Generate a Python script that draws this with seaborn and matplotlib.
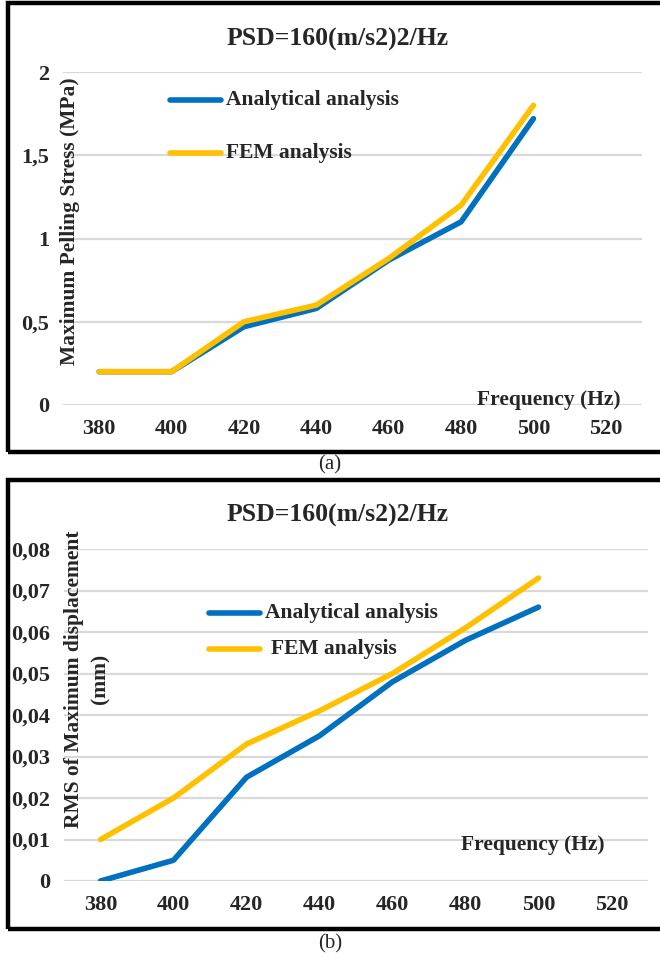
import numpy as np
import pandas as pd
import seaborn as sns
from matplotlib import pyplot as plt
from matplotlib.patches import Rectangle

# data
freq = [380, 400, 420, 440, 460, 480, 500]
stress_analytical = [0.2, 0.2, 0.47, 0.58, 0.87, 1.1, 1.72]
stress_fem = [0.2, 0.2, 0.5, 0.6, 0.88, 1.2, 1.8]
disp_analytical = [0.0, 0.005, 0.025, 0.035, 0.048, 0.058, 0.066]
disp_fem = [0.01, 0.02, 0.033, 0.041, 0.05, 0.061, 0.073]
x_ticks = [380, 400, 420, 440, 460, 480, 500, 520]
series_names = ["Analytical analysis", "FEM analysis"]

BLUE = "#0070C0"
YELLOW = "#FFC000"
GRID = "#D9D9D9"

sns.set_style("white")
plt.rcParams['font.family'] = ['Liberation Serif', 'DejaVu Serif']
plt.rcParams['font.weight'] = 'bold'

W, H = 660, 957
fig = plt.figure(figsize=(W / 100, H / 100), dpi=100)


def px_axes(left, top, right, bottom):
    return fig.add_axes([left / W, 1 - bottom / H, (right - left) / W, (bottom - top) / H])


def long_df(a, b):
    return pd.DataFrame({
        "freq": freq + freq,
        "value": a + b,
        "series": [series_names[0]] * len(freq) + [series_names[1]] * len(freq),
    })


def style_axis(ax, ymax, ystep, fmt):
    ax.set_xlim(370, 530)
    ax.set_ylim(0, ymax)
    ax.set_xticks(x_ticks)
    ax.set_xticklabels([str(v) for v in x_ticks], fontsize=16, fontweight='bold')
    yt = np.arange(0, ymax + ystep / 2, ystep)
    ax.set_yticks(yt)
    ax.set_yticklabels([fmt(v) for v in yt], fontsize=16, fontweight='bold')
    ax.tick_params(length=0, pad=10)
    ax.grid(axis='y', color=GRID, linewidth=1.6)
    ax.grid(axis='x', visible=False)
    sns.despine(ax=ax, left=True, bottom=True)
    ax.set_xlabel("")
    ax.set_ylabel("")
    leg = ax.get_legend()
    if leg is not None:
        leg.remove()


def border(top, bottom):
    fig.patches.append(Rectangle((8 / W, 1 - bottom / H), (W + 20) / W, (bottom - top) / H,
                                 transform=fig.transFigure, fill=False,
                                 edgecolor='black', linewidth=3.2))


def legend_lines(x0, x1, ys, xtext):
    for name, col, y in zip(series_names, [BLUE, YELLOW], ys):
        fig.lines.append(plt.Line2D([x0 / W, x1 / W], [1 - y / H, 1 - y / H],
                                    transform=fig.transFigure, color=col,
                                    linewidth=4, solid_capstyle='round'))
        fig.text(xtext[name] / W, 1 - y / H, name, fontsize=15.5, fontweight='bold',
                 va='center', ha='left')


# ---- panel (a) ----
border(3, 452)
ax1 = px_axes(63, 72, 642, 405)
sns.lineplot(data=long_df(stress_analytical, stress_fem), x="freq", y="value",
             hue="series", palette=[BLUE, YELLOW], linewidth=4,
             solid_capstyle='round', ax=ax1)
style_axis(ax1, 2, 0.5, lambda v: ("%g" % v).replace(".", ","))
fig.text(338 / W, 1 - 39 / H, "PSD=160(m/s2)2/Hz", fontsize=18.5, fontweight='bold',
         ha='center', va='center')
fig.text(70 / W, 1 - 221 / H, "Maximum Pelling Stress (MPa)", fontsize=15.5,
         fontweight='bold', rotation=90, ha='center', va='center')
fig.text(549 / W, 1 - 400 / H, "Frequency (Hz)", fontsize=15.5, fontweight='bold',
         ha='center', va='center')
legend_lines(170, 221, [100, 153],
             {"Analytical analysis": 226, "FEM analysis": 226})
fig.text(330 / W, 1 - 465 / H, "(a)", fontsize=15, fontweight='normal',
         ha='center', va='center')

# ---- panel (b) ----
border(480, 929)
ax2 = px_axes(64, 549, 648, 881)
sns.lineplot(data=long_df(disp_analytical, disp_fem), x="freq", y="value",
             hue="series", palette=[BLUE, YELLOW], linewidth=4,
             solid_capstyle='round', ax=ax2)
style_axis(ax2, 0.08, 0.01, lambda v: "0" if v == 0 else ("%.2f" % v).replace(".", ","))
fig.text(338 / W, 1 - 515 / H, "PSD=160(m/s2)2/Hz", fontsize=18.5, fontweight='bold',
         ha='center', va='center')
fig.text(87 / W, 1 - 679 / H, "RMS of Maximum displacement\n(mm)", fontsize=15.5,
         fontweight='bold', rotation=90, ha='center', va='center', linespacing=1.4)
fig.text(533 / W, 1 - 845 / H, "Frequency (Hz)", fontsize=15.5, fontweight='bold',
         ha='center', va='center')
legend_lines(209, 260, [613, 649],
             {"Analytical analysis": 265, "FEM analysis": 271})
fig.text(330 / W, 1 - 944 / H, "(b)", fontsize=15, fontweight='normal',
         ha='center', va='center')

fig.savefig("out.png", dpi=100)
